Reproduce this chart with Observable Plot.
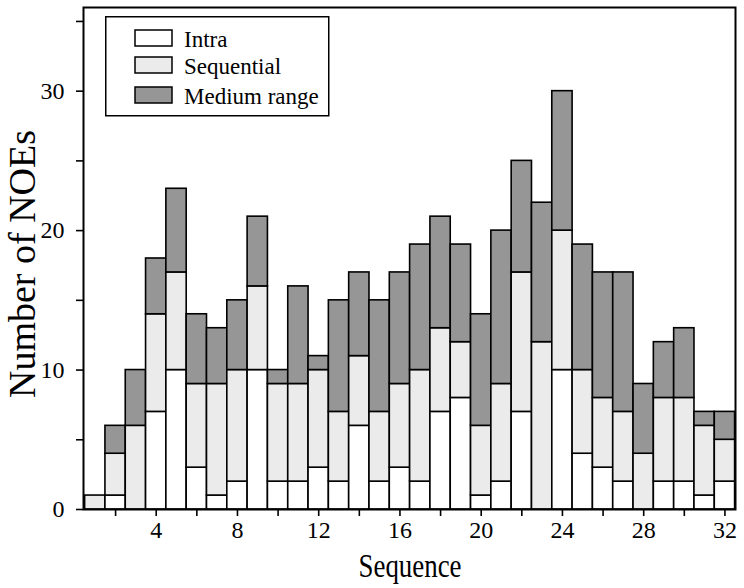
<!DOCTYPE html>
<html><head><meta charset="utf-8">
<script src="https://cdn.jsdelivr.net/npm/d3@7"></script>
<script src="https://cdn.jsdelivr.net/npm/@observablehq/plot@0.6"></script>
<style>
body{margin:0;background:#fff;}
#wrap{position:relative;width:744px;height:588px;font-family:"Liberation Serif",serif;}
#legend{position:absolute;left:105px;top:16px;}
</style>
</head><body>
<div id="wrap"><div id="chart"></div><svg id="legend" width="225" height="101"></svg></div>
<script>
const residues = [1,2,3,4,5,6,7,8,9,10,11,12,13,14,15,16,17,18,19,20,21,22,23,24,25,26,27,28,29,30,31,32];
const intra      = [0,1,0,7,10,3,1,2,10,2,2,3,2,6,2,3,2,7,8,1,2,7,0,10,4,3,2,0,2,2,1,2];
const sequential = [1,3,6,7,7,6,8,8,6,7,7,7,5,5,5,6,8,6,4,5,7,10,12,10,6,5,5,4,6,6,5,3];
const medium     = [0,2,4,4,6,5,4,5,5,1,7,1,8,6,8,8,9,8,7,8,11,8,10,10,9,9,10,5,4,5,1,2];
const types = ["Intra","Sequential","Medium range"];
const colors = ["#ffffff","#ebebeb","#969696"];
const xTicks = [2,4,6,8,10,12,14,16,18,20,22,24,26,28,30,32];
const yTicks = [0,5,10,15,20,25,30,35];

const series = [intra, sequential, medium];
const rows = [];
residues.forEach((r, i) => {
  types.forEach((t, k) => rows.push({res: r, type: t, value: series[k][i]}));
});

const chart = Plot.plot({
  width: 744, height: 588,
  marginLeft: 83, marginRight: 9, marginTop: 7, marginBottom: 79,
  style: {fontFamily: "Liberation Serif, serif", fontSize: "24px", color: "#000", background: "#fff"},
  x: {domain: [0.42, 32.52]},
  y: {domain: [0, 36]},
  color: {domain: types, range: colors},
  marks: [
    Plot.rectY(rows, {filter: d => d.value > 0, x1: d => d.res - 0.5, x2: d => d.res + 0.5, y: "value",
      fill: "type", stroke: "#000", strokeWidth: 1.6}),
    Plot.axisX({ticks: xTicks, tickFormat: d => d % 4 === 0 ? String(d) : "", tickSize: 7, tickPadding: 4,
      strokeWidth: 1.6, label: "Sequence", labelAnchor: "center", labelArrow: false}),
    Plot.axisY({ticks: yTicks, tickFormat: d => d % 10 === 0 ? String(d) : "", tickSize: 7, tickPadding: 12,
      strokeWidth: 1.6, label: "Number of NOEs", labelAnchor: "center", labelArrow: false}),
    Plot.frame({stroke: "#000", strokeWidth: 2})
  ]
});
document.getElementById("chart").append(chart);

// axis titles: condensed serif, placed like the reference
const svg = d3.select(chart);
svg.selectAll("text").each(function() {
  const t = d3.select(this);
  const s = t.text();
  if (s === "Sequence") {
    t.attr("font-size", 34).attr("textLength", 103).attr("lengthAdjust", "spacingAndGlyphs")
     .attr("transform", "translate(410,577)").attr("x", null).attr("y", 0).attr("dy", null)
     .attr("text-anchor", "middle");
    d3.select(this.parentNode).attr("transform", null);
  }
  if (s === "Number of NOEs") {
    t.attr("font-size", 38).attr("textLength", 268).attr("lengthAdjust", "spacingAndGlyphs")
     .attr("transform", "translate(35,264) rotate(-90)").attr("x", null).attr("y", 0).attr("dy", null)
     .attr("text-anchor", "middle");
    d3.select(this.parentNode).attr("transform", null);
  }
});

// legend
const lg = d3.select("#legend");
lg.append("rect").attr("x", 0.75).attr("y", 0.75).attr("width", 223).attr("height", 99)
  .attr("fill", "#fff").attr("stroke", "#000").attr("stroke-width", 1.5);
const item = lg.selectAll("g").data(types).join("g")
  .attr("transform", (d, i) => `translate(0,${[14, 41, 71][i]})`);
item.append("rect").attr("x", 30).attr("y", 0).attr("width", 37).attr("height", 16)
  .attr("fill", (d, i) => colors[i]).attr("stroke", "#000").attr("stroke-width", 1.5);
item.append("text").attr("x", 79).attr("y", 17).text(d => d)
  .attr("font-family", "Liberation Serif, serif").attr("font-size", 23).attr("fill", "#000");
</script>
</body></html>
